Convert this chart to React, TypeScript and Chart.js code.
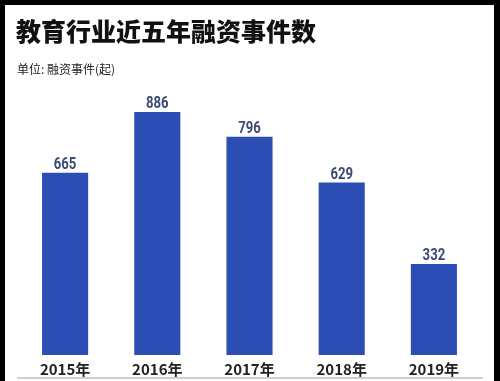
import React, { useEffect, useRef } from "react";
import { Chart, registerables } from "chart.js";

Chart.register(...registerables);

const categories = ["2015年", "2016年", "2017年", "2018年", "2019年"];
const values = [665, 886, 796, 629, 332];
const titleText = "教育行业近五年融资事件数";
const unitText = "单位: 融资事件(起)";

const BAR_COLOR = "#2c4db4";
const LABEL_COLOR = "#3a4a72";

const valueLabels = {
  id: "valueLabels",
  afterDatasetsDraw(chart: any) {
    const ctx = chart.ctx;
    const meta = chart.getDatasetMeta(0);
    ctx.save();
    ctx.fillStyle = LABEL_COLOR;
    ctx.font = 'bold 16px "Roboto", sans-serif';
    ctx.textAlign = "center";
    ctx.textBaseline = "alphabetic";
    meta.data.forEach((bar: any, i: number) => {
      ctx.save();
      ctx.translate(bar.x, bar.y - 4);
      ctx.scale(0.82, 1);
      ctx.fillText(String(chart.data.datasets[0].data[i]), 0, 0);
      ctx.restore();
    });
    ctx.restore();
  },
};

export default function App() {
  const canvasRef = useRef<HTMLCanvasElement | null>(null);

  useEffect(() => {
    document.body.style.margin = "0";
    const chart = new Chart(canvasRef.current as HTMLCanvasElement, {
      type: "bar",
      data: {
        labels: categories,
        datasets: [
          {
            data: values,
            backgroundColor: BAR_COLOR,
            barPercentage: 0.5,
            categoryPercentage: 1,
          },
        ],
      },
      options: {
        animation: false,
        responsive: false,
        maintainAspectRatio: false,
        layout: { padding: { left: 19, right: 20, top: 100, bottom: 7 } },
        plugins: {
          legend: { display: false },
          tooltip: { enabled: false },
          title: { display: false },
        },
        scales: {
          x: {
            grid: { display: false, drawTicks: false },
            border: { display: false },
            ticks: {
              color: "#222",
              padding: 5,
              font: { family: '"Noto Sans CJK SC", sans-serif', size: 15, weight: "bold" },
            },
          },
          y: {
            display: false,
            min: 0,
            max: 930,
          },
        },
      },
      plugins: [valueLabels],
    });
    return () => chart.destroy();
  }, []);

  return (
    <div style={{ position: "fixed", left: 0, top: 0, width: 500, height: 381, background: "#000", overflow: "hidden" }}>
      <div style={{ position: "absolute", left: 5, top: 5, width: 489, height: 376, background: "#fff" }} />
      <div style={{ position: "absolute", left: 17, top: 377, width: 466, height: 2, background: "#cfcfcf" }} />
      <canvas ref={canvasRef} width={500} height={390} style={{ position: "absolute", left: 0, top: 0, width: 500, height: 390 }} />
      <div
        style={{
          position: "absolute",
          left: 16,
          top: 14,
          fontFamily: '"Noto Sans CJK SC", sans-serif',
          fontWeight: 900,
          fontSize: 25,
          lineHeight: "32px",
          color: "#111",
          whiteSpace: "nowrap",
        }}
      >
        {titleText}
      </div>
      <div
        style={{
          position: "absolute",
          left: 17,
          top: 60,
          fontFamily: '"Noto Sans CJK SC", sans-serif',
          fontSize: 12,
          lineHeight: "18px",
          color: "#222",
          whiteSpace: "nowrap",
        }}
      >
        {unitText}
      </div>
    </div>
  );
}
